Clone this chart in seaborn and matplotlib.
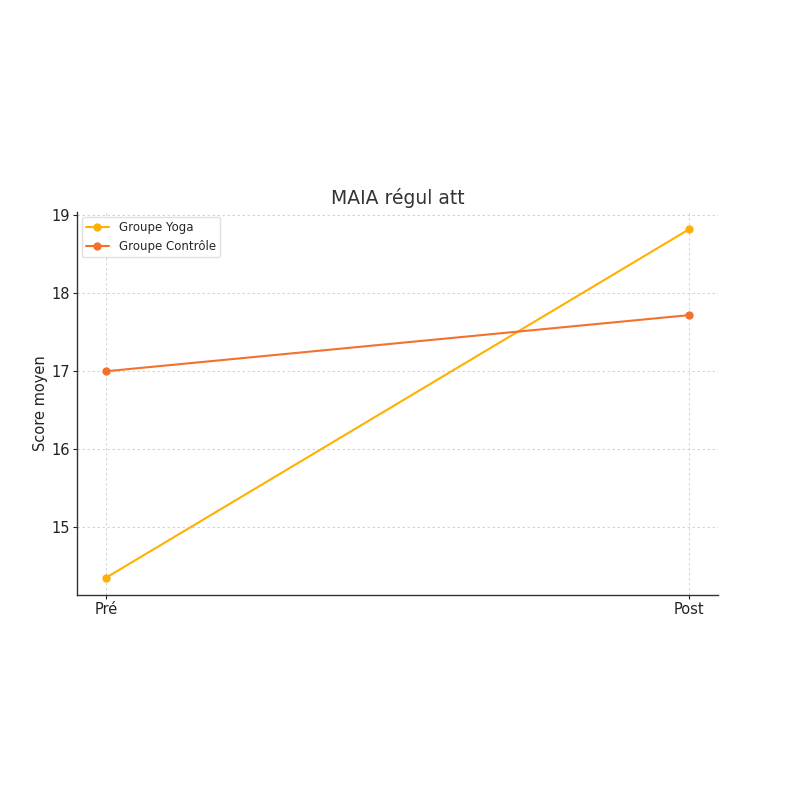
import matplotlib
matplotlib.use("Agg")
import matplotlib.pyplot as plt
import seaborn as sns
import pandas as pd

# data
temps = ["Pré", "Post"]
yoga = [14.35, 18.82]
controle = [17.0, 17.72]
groupes = ["Groupe Yoga", "Groupe Contrôle"]
couleurs = ["#FFB000", "#F2722D"]

df = pd.DataFrame({
    "temps": temps * 2,
    "score": yoga + controle,
    "groupe": [groupes[0]] * 2 + [groupes[1]] * 2,
})

sns.set_theme(style="white")
plt.rcParams['font.family'] = ['DejaVu Sans']

fig = plt.figure(figsize=(8, 8), dpi=100)
ax = fig.add_axes([0.096, 0.256, 0.8015, 0.479])

sns.lineplot(data=df, x="temps", y="score", hue="groupe", palette=couleurs,
             marker="o", markersize=6, markeredgewidth=0, linewidth=1.5,
             sort=False, ax=ax)

ax.set_title("MAIA régul att", fontsize=13.5, color="#333333")
ax.set_xlabel("")
ax.set_ylabel("Score moyen", fontsize=10.5, color="#222222", labelpad=2)
ax.set_yticks([15, 16, 17, 18, 19])
ax.tick_params(axis="both", labelsize=10.5, colors="#222222", length=3, width=0.8,
               pad=2, direction="out", left=True, bottom=True)
ax.grid(True, linestyle=(0, (3, 3)), color="#cccccc", linewidth=0.6)
for s in ["top", "right"]:
    ax.spines[s].set_visible(False)
for s in ["left", "bottom"]:
    ax.spines[s].set_color("#333333")
    ax.spines[s].set_linewidth(1.0)

ax.legend(title=None, loc="upper left", fontsize=8.5, frameon=True, framealpha=0.9,
          edgecolor="#dddddd", fancybox=True, borderaxespad=0.4,
          labelspacing=0.5, handlelength=2.0, borderpad=0.35)

fig.savefig("out.png", dpi=100)
